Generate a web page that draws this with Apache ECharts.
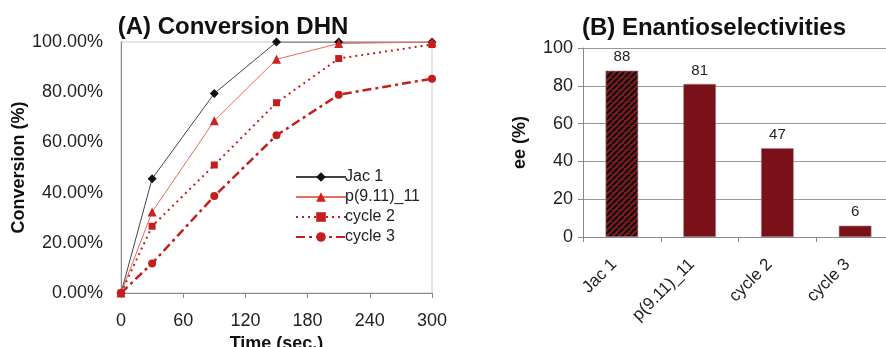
<!DOCTYPE html>
<html>
<head>
<meta charset="utf-8">
<script src="https://cdn.jsdelivr.net/npm/echarts@6/dist/echarts.min.js"></script>
<style>
html,body{margin:0;padding:0;background:#fff;}
#c{width:886px;height:347px;}
</style>
</head>
<body>
<div id="c"></div>
<script>
// Panel A: conversion vs time
const times = [0, 30, 90, 150, 210, 300];
const jac1 = [0, 45.5, 79.5, 100, 100, 100];
const p911 = [0, 32.3, 68.6, 93.1, 99.4, 100];
const cycle2 = [0, 26.6, 51.0, 75.8, 93.4, 99.0];
const cycle3 = [0, 11.8, 38.6, 62.8, 79.0, 85.4];
const xTicksA = [0, 60, 120, 180, 240, 300];

// Panel B: enantioselectivities
const catsB = ['Jac 1', 'p(9.11)_11', 'cycle 2', 'cycle 3'];
const eeVals = [88, 81, 47, 6];

const FONT = 'Liberation Sans, Arial, sans-serif';
const RED = '#7a1118';

function pair(xs, ys) { return xs.map((x, i) => [x, ys[i]]); }

// hatch pattern for first bar
const pc = document.createElement('canvas');
pc.width = 6; pc.height = 6;
const g = pc.getContext('2d');
g.fillStyle = '#8a1a1e';
g.fillRect(0, 0, 6, 6);
g.strokeStyle = '#111';
g.lineWidth = 2.3;
[-6, 0, 6].forEach(o => {
  g.beginPath();
  g.moveTo(o, 6);
  g.lineTo(o + 6, 0);
  g.stroke();
});

const chart = echarts.init(document.getElementById('c'), null, {renderer: 'canvas'});
chart.setOption({
  animation: false,
  backgroundColor: '#fff',
  textStyle: {fontFamily: FONT},
  title: [
    {text: '(A) Conversion DHN', left: 228, top: 10, textAlign: 'center',
     textStyle: {fontSize: 24, fontWeight: 'bold', color: '#111', fontFamily: FONT}},
    {text: '(B) Enantioselectivities', left: 709, top: 11, textAlign: 'center',
     textStyle: {fontSize: 24, fontWeight: 'bold', color: '#111', fontFamily: FONT}}
  ],
  legend: {
    left: 290, top: 164, orient: 'vertical', itemWidth: 50, itemHeight: 12, itemGap: 4,
    textStyle: {fontSize: 16, color: '#222', fontFamily: FONT, padding: [0, 0, 0, -6]},
    data: ['Jac 1', 'p(9.11)_11', 'cycle 2', 'cycle 3']
  },
  grid: [
    {left: 121, top: 42, width: 311, height: 251, show: true, borderColor: '#c8c8c8', borderWidth: 1,
     containLabel: false, outerBoundsMode: 'none'},
    {left: 583, top: 48, width: 311, height: 189, containLabel: false, outerBoundsMode: 'none'}
  ],
  xAxis: [
    {gridIndex: 0, type: 'value', min: 0, max: 300, interval: 60,
     name: 'Time (sec.)', nameLocation: 'middle', nameGap: 39,
     nameTextStyle: {fontSize: 18, fontWeight: 'bold', color: '#111', fontFamily: FONT},
     axisLine: {show: true, lineStyle: {color: '#888'}},
     axisTick: {show: true, inside: false, length: 5, lineStyle: {color: '#888'}},
     axisLabel: {fontSize: 18, color: '#222', margin: 19, fontFamily: FONT},
     splitLine: {show: false}},
    {gridIndex: 1, type: 'category', data: catsB, boundaryGap: true,
     axisLine: {show: true, lineStyle: {color: '#888'}},
     axisTick: {show: true, alignWithLabel: false, length: 5, lineStyle: {color: '#888'}},
     axisLabel: {fontSize: 17, color: '#222', rotate: 45, margin: 17, padding: [0, 11, 0, 0], fontFamily: FONT},
     splitLine: {show: false}}
  ],
  yAxis: [
    {gridIndex: 0, type: 'value', min: 0, max: 100, interval: 20,
     name: 'Conversion (%)', nameLocation: 'middle', nameGap: 87, nameRotate: 90,
     nameTextStyle: {fontSize: 18, fontWeight: 'bold', color: '#111', fontFamily: FONT},
     axisLine: {show: true, lineStyle: {color: '#888'}},
     axisTick: {show: false},
     axisLabel: {fontSize: 18, color: '#222', margin: 18, fontFamily: FONT,
       formatter: v => v.toFixed(2) + '%'},
     splitLine: {show: false}},
    {gridIndex: 1, type: 'value', min: 0, max: 100, interval: 20,
     name: 'ee (%)', nameLocation: 'middle', nameGap: 54, nameRotate: 90,
     nameTextStyle: {fontSize: 18, fontWeight: 'bold', color: '#111', fontFamily: FONT},
     axisLine: {show: true, lineStyle: {color: '#888'}},
     axisTick: {show: true, length: 5, lineStyle: {color: '#888'}},
     axisLabel: {fontSize: 18, color: '#222', margin: 10, fontFamily: FONT},
     splitLine: {show: true, lineStyle: {color: '#9a9a9a', width: 1}}}
  ],
  series: [
    {name: 'Jac 1', type: 'line', xAxisIndex: 0, yAxisIndex: 0, data: pair(times, jac1),
     symbol: 'diamond', symbolSize: 9, color: '#111',
     lineStyle: {color: '#444', width: 1}, itemStyle: {color: '#111'}},
    {name: 'p(9.11)_11', type: 'line', xAxisIndex: 0, yAxisIndex: 0, data: pair(times, p911),
     symbol: 'triangle', symbolSize: 9, color: '#cc2222',
     lineStyle: {color: '#ea6a5e', width: 1}, itemStyle: {color: '#cc2222'}},
    {name: 'cycle 2', type: 'line', xAxisIndex: 0, yAxisIndex: 0, data: pair(times, cycle2),
     symbol: 'rect', symbolSize: 7, color: '#c41e1e',
     lineStyle: {color: '#c41e1e', width: 2, type: [2, 4]}, itemStyle: {color: '#c41e1e'}},
    {name: 'cycle 3', type: 'line', xAxisIndex: 0, yAxisIndex: 0, data: pair(times, cycle3),
     symbol: 'circle', symbolSize: 8, color: '#c41e1e',
     lineStyle: {color: '#c41e1e', width: 2.5, type: [9, 4, 3, 4]}, itemStyle: {color: '#c41e1e'}},
    {name: 'ee', type: 'bar', xAxisIndex: 1, yAxisIndex: 1, barWidth: '42%',
     data: eeVals.map((v, i) => i === 0
       ? {value: v, itemStyle: {color: {image: pc, repeat: 'repeat'}}}
       : {value: v}),
     itemStyle: {color: RED, borderColor: '#a88', borderWidth: 0.6},
     label: {show: true, position: 'top', distance: 6, fontSize: 15, color: '#222', fontFamily: FONT}}
  ]
});
</script>
</body>
</html>
